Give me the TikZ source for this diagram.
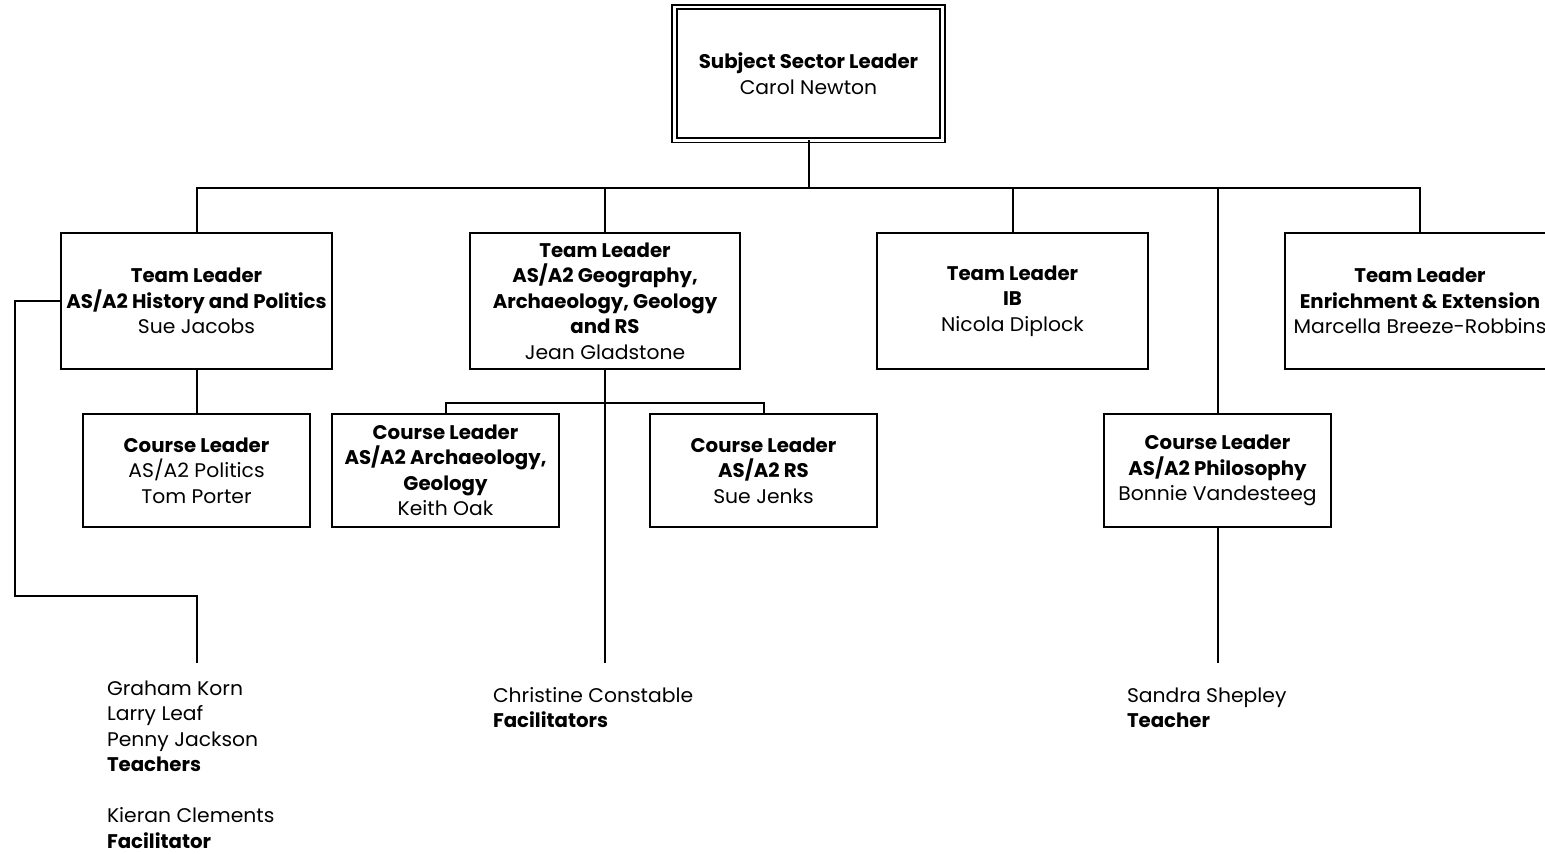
\documentclass[tikz,border=0pt]{standalone}
\usepackage{fontspec}
\setmainfont{Poppins}[FakeStretch=1.03,BoldFeatures={FakeStretch=1}]
\begin{document}
\begin{tikzpicture}[x=0.75pt,y=-0.75pt,
  every node/.style={inner sep=0pt,outer sep=0pt,font=\fontsize{14.8}{19.1}\selectfont},
  conn/.style={line width=1.5pt},
  teambox/.style={draw,line width=1.5pt,minimum width=203pt,minimum height=102pt,align=center},
  coursebox/.style={draw,line width=1.5pt,minimum width=170pt,minimum height=85pt,align=center},
  topbox/.style={draw,line width=1.3pt,double,double distance=2pt,minimum width=201pt,minimum height=100pt,align=center},
  listtext/.style={anchor=base west,align=left}]
\useasboundingbox (0,0) rectangle (1545,853);
\begin{scope}
\clip (0,0) rectangle (1545,853);
\node[topbox] (top) at (808.5,73.75) {\textbf{Subject Sector Leader}\\Carol Newton};
\node[teambox] (tl1) at (196.5,301) {\textbf{Team Leader}\\\textbf{AS/A2 History and Politics}\\Sue Jacobs};
\node[teambox] (tl2) at (605,301) {\textbf{Team Leader}\\\textbf{AS/A2 Geography,}\\\textbf{Archaeology, Geology}\\\textbf{and RS}\\Jean Gladstone};
\node[teambox] (tl3) at (1012.5,301) {\textbf{Team Leader}\\\textbf{IB}\\Nicola Diplock};
\node[teambox] (tl4) at (1420,301) {\textbf{Team Leader}\\\textbf{Enrichment \& Extension}\\Marcella Breeze-Robbins};
\node[coursebox] (pol) at (196.5,470.5) {\textbf{Course Leader}\\AS/A2 Politics\\Tom Porter};
\node[coursebox] (arch) at (445.5,470.5) {\textbf{Course Leader}\\\textbf{AS/A2 Archaeology,}\\\textbf{Geology}\\Keith Oak};
\node[coursebox] (rs) at (763.5,470.5) {\textbf{Course Leader}\\\textbf{AS/A2 RS}\\Sue Jenks};
\node[coursebox] (phil) at (1217.5,470.5) {\textbf{Course Leader}\\\textbf{AS/A2 Philosophy}\\Bonnie Vandesteeg};
\coordinate (busY) at (0,188);
\coordinate (leftEnd) at (196.5,663);
\coordinate (midEnd) at (605,663);
\coordinate (rightEnd) at (1217.5,663);
\draw[conn] (top.south) -- (top.south |- busY);
\draw[conn] (tl1.north) -- (tl1.north |- busY) -- (tl4.north |- busY) -- (tl4.north);
\draw[conn] (tl2.north) -- (tl2.north |- busY);
\draw[conn] (tl3.north) -- (tl3.north |- busY);
\draw[conn] (phil.north) -- (phil.north |- busY);
\draw[conn] (tl1.south) -- (pol.north);
\draw[conn] (tl2.south) -- (midEnd);
\draw[conn] (arch.north) -- ++(0,-11) -| (rs.north);
\draw[conn] (phil.south) -- (rightEnd);
\draw[conn] (tl1.west) -- (15,301) -- (15,596) -- (leftEnd |- 0,596) -- (leftEnd);
\end{scope}
\node[listtext] (g1) at (107,695) {Graham Korn};
\node[listtext] (g2) at (107,720.5) {Larry Leaf};
\node[listtext] (g3) at (107,746) {Penny Jackson};
\node[listtext] (g4) at (107,771.5) {\textbf{Teachers}};
\node[listtext] (g5) at (107,822.5) {Kieran Clements};
\node[listtext] (g6) at (107,848) {\textbf{Facilitator}};
\node[listtext] (c1) at (493,702) {Christine Constable};
\node[listtext] (c2) at (493,727.5) {\textbf{Facilitators}};
\node[listtext] (s1) at (1127,702) {Sandra Shepley};
\node[listtext] (s2) at (1127,727.5) {\textbf{Teacher}};
\end{tikzpicture}
\end{document}
